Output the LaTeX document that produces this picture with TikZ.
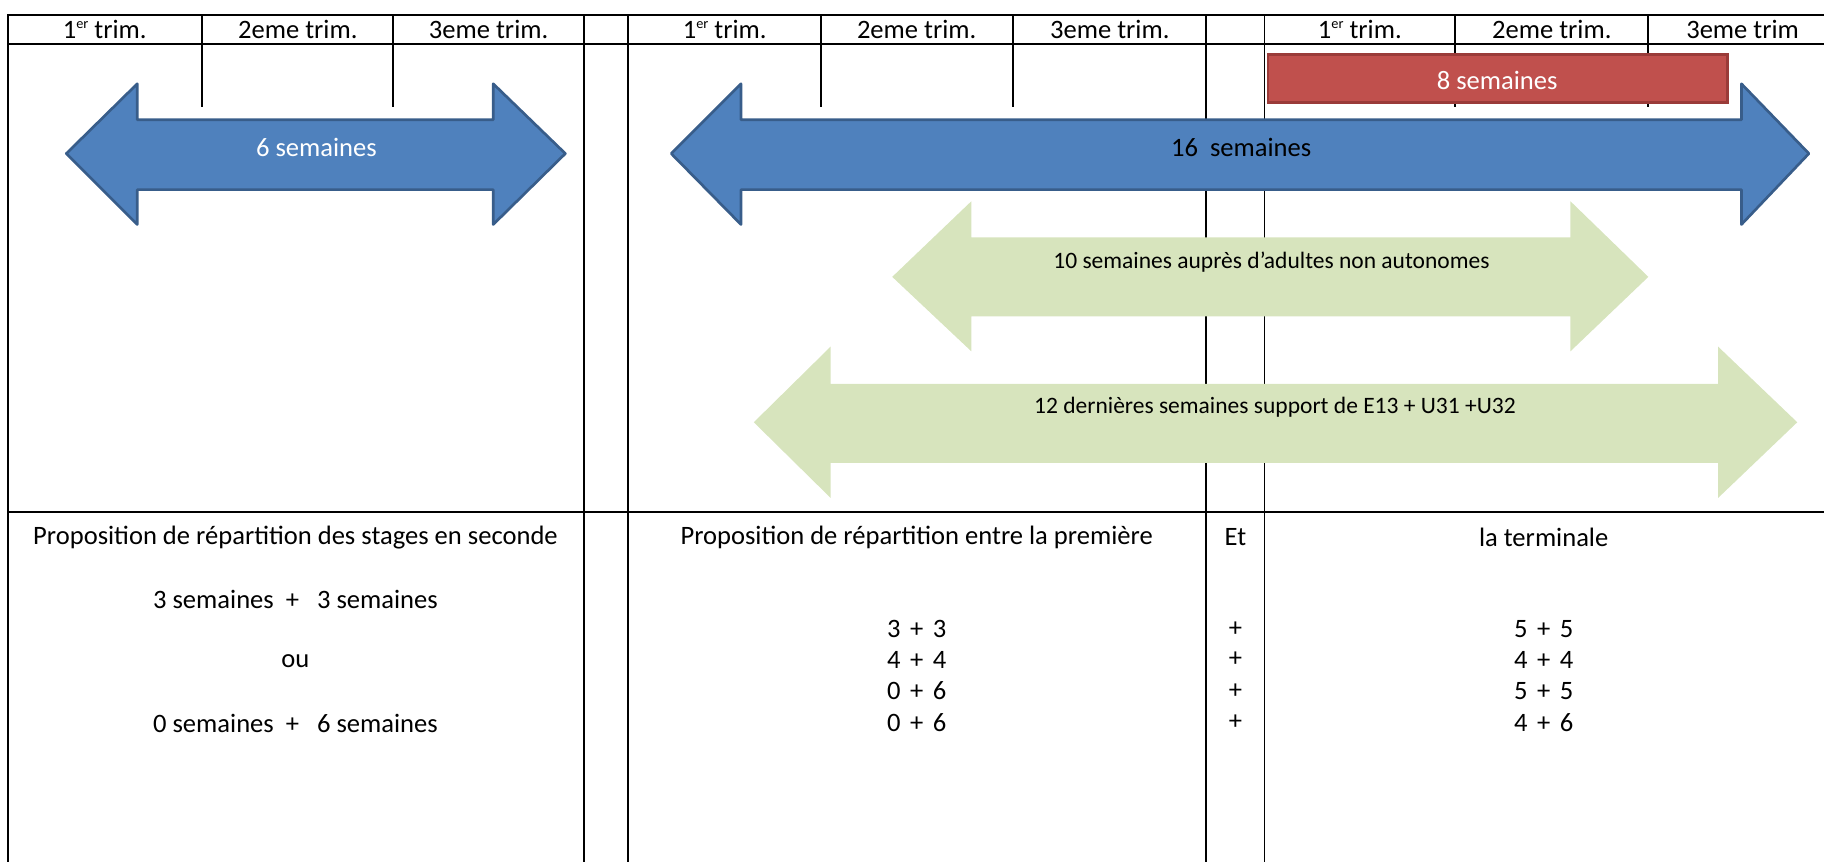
\documentclass[tikz,border=0pt]{standalone}
\usepackage{fontspec}
\setmainfont{Carlito}
\usepackage{xcolor}
\usetikzlibrary{positioning}

\definecolor{stageblue}{HTML}{4F81BD}
\definecolor{stageblueline}{HTML}{385D8A}
\definecolor{stagered}{HTML}{C0504D}
\definecolor{stageredline}{HTML}{9A3B39}
\definecolor{stagegreen}{HTML}{D7E4BD}

\newcommand{\er}{\raisebox{0.75ex}{\fontsize{7}{8}\selectfont er}}
\newcommand{\pl}{\hspace{0.36em}+\hspace{0.36em}}

\tikzset{
  tbl/.style={line width=0.9pt, black},
  bluearrow/.style={fill=stageblue, draw=stageblueline, line width=1.3pt, line join=round},
  greenarrow/.style={fill=stagegreen},
  txt/.style={font=\fontsize{13}{15}\selectfont, inner sep=0pt},
  smalltxt/.style={font=\fontsize{11.5}{13}\selectfont, inner sep=0pt}
}

\begin{document}
\begin{tikzpicture}[x=0.02cm, y=-0.02cm]
  \useasboundingbox (0,0) rectangle (1568,741);

  % Table frame
  \draw[tbl] (1568,13) -- (7,13) -- (7,741);
  \draw[tbl] (7,38) -- (1568,38);
  \draw[tbl] (7,440) -- (1568,440);
  \foreach \x in {502,540,1037,1087}
    \draw[tbl] (\x,13) -- (\x,741);
  % Trimester separators
  \foreach \x in {174,338,706,871,1251,1417}
    \draw[tbl] (\x,13) -- (\x,92);

  % Header
  \node[txt] (s1) at (90,25) {1\er\ trim.};
  \node[txt] (s2) at (256,25) {2eme trim.};
  \node[txt] (s3) at (420,25) {3eme trim.};
  \node[txt] (p1) at (623,25) {1\er\ trim.};
  \node[txt] (p2) at (788,25) {2eme trim.};
  \node[txt] (p3) at (954,25) {3eme trim.};
  \node[txt] (t1) at (1169,25) {1\er\ trim.};
  \node[txt] (t2) at (1334,25) {2eme trim.};
  \node[txt] (t3) at (1498,25) {3eme trim};

  % Seconde: 6 semaines
  \draw[bluearrow] (57,132) -- (118,72) -- (118,103) -- (424,103) -- (424,72)
    -- (486,132) -- (424,193) -- (424,163) -- (118,163) -- (118,193) -- cycle;
  \node[txt, white] (six) at (272,127) {6 semaines};

  % Premiere + terminale: 16 semaines
  \draw[bluearrow] (577,132) -- (637,72) -- (637,103) -- (1497,103) -- (1497,72)
    -- (1555,132) -- (1497,193) -- (1497,163) -- (637,163) -- (637,193) -- cycle;
  \node[txt] (sixteen) at (1067,127) {16\ \ semaines};

  % Terminale: 8 semaines
  \draw[fill=stagered, draw=stageredline, line width=1.3pt] (1090,47) rectangle (1485,88);
  \node[txt, white] (eight) at (1287,69) {8 semaines};

  % Green arrows
  \fill[greenarrow] (767,238) -- (835,173) -- (835,204) -- (1350,204) -- (1350,173)
    -- (1417,238) -- (1350,302) -- (1350,272) -- (835,272) -- (835,302) -- cycle;
  \node[smalltxt] (ten) at (1093,225) {10 semaines auprès d’adultes non autonomes};

  \fill[greenarrow] (648,363) -- (714,298) -- (714,330) -- (1477,330) -- (1477,298)
    -- (1545,363) -- (1477,428) -- (1477,398) -- (714,398) -- (714,428) -- cycle;
  \node[smalltxt] (twelve) at (1096,350) {12 dernières semaines support de E13 + U31 +U32};

  % Seconde proposals
  \node[txt] (sec) at (254,462) {Proposition de répartition des stages en seconde};
  \node[txt] (sa) at (254,515) {3 semaines\ \ +\ \ \ 3 semaines};
  \node[txt] (sou) at (254,568) {ou};
  \node[txt] (sb) at (254,622) {0 semaines\ \ +\ \ \ 6 semaines};

  % Premiere / terminale proposals
  \node[txt] (prem) at (788,462) {Proposition de répartition entre la première};
  \node[txt] (et) at (1062,462) {Et};
  \node[txt] (term) at (1327,462) {la terminale};
  \foreach \y/\a/\b/\c/\d [count=\i] in {541/3/3/5/5, 567/4/4/4/4, 594/0/6/5/5, 621/0/6/4/6} {
    \node[txt] (pa\i) at (788,\y) {\a\pl\b};
    \node[txt] (plus\i) at (1062,\y) {+};
    \node[txt] (ta\i) at (1327,\y) {\c\pl\d};
  }
\end{tikzpicture}
\end{document}
